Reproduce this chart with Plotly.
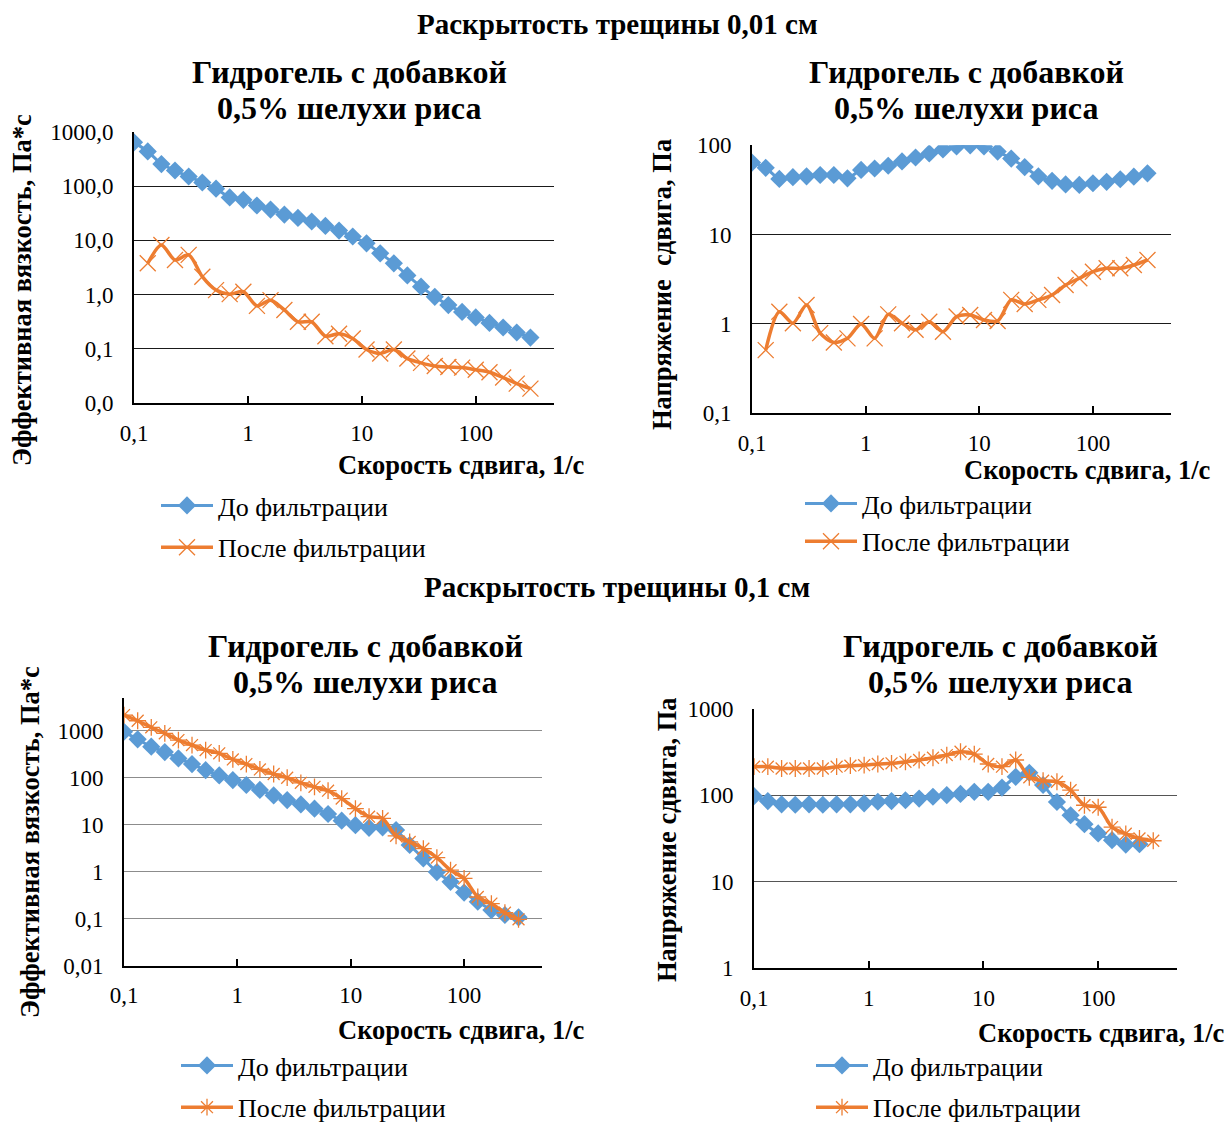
import plotly.graph_objects as go

# Shear rate, 1/s (common grid for all four panels)
shear_rate = [0.1, 0.132, 0.174, 0.229, 0.302, 0.398, 0.525, 0.692, 0.912, 1.2,
              1.58, 2.09, 2.75, 3.63, 4.79, 6.31, 8.32, 11.0, 14.5, 19.1,
              25.1, 33.1, 43.7, 57.5, 75.9, 100, 132, 174, 229, 302]

# Crack opening 0.01 cm: effective viscosity, Pa*s
visc_01_before = [644, 439, 256, 195, 151, 117, 90, 62, 56, 44,
                  37, 30, 26, 22.3, 18.5, 15.2, 11.8, 8.85, 5.78, 3.78,
                  2.26, 1.40, 0.91, 0.64, 0.48, 0.38, 0.30, 0.247, 0.20, 0.161]
visc_01_after = [None, 3.78, 8.2, 4.35, 5.4, 2.14, 1.21, 1.02, 1.13, 0.62,
                 0.79, 0.52, 0.315, 0.315, 0.171, 0.19, 0.155, 0.097, 0.082, 0.097,
                 0.066, 0.055, 0.048, 0.046, 0.045, 0.041, 0.037, 0.0295, 0.0228, 0.0184]

# Crack opening 0.01 cm: shear stress, Pa
stress_01_before = [64, 56, 42, 44, 45, 46.5, 46.5, 42.7, 53, 55,
                    59, 66, 73, 81, 90, 97, 100, 97, 85, 71,
                    57, 45, 40, 36.5, 36, 37.6, 39, 41.7, 44.6, 48.6]
stress_01_after = [None, 0.51, 1.37, 1.02, 1.63, 0.79, 0.62, 0.69, 1.0, 0.69,
                   1.28, 1.02, 0.86, 1.06, 0.82, 1.21, 1.26, 1.11, 1.08, 1.86,
                   1.67, 1.86, 2.11, 2.73, 3.25, 3.85, 4.2, 4.2, 4.57, 5.2]

# Crack opening 0.1 cm: effective viscosity, Pa*s
visc_1_before = [952, 655, 457, 352, 258, 195, 145, 112, 89, 70,
                 55, 42, 33.5, 27, 21.9, 16.9, 12.2, 9.8, 8.6, 8.8,
                 7.7, 3.7, 1.92, 0.98, 0.61, 0.36, 0.23, 0.153, 0.12, 0.107]
visc_1_after = [2150, 1630, 1180, 880, 633, 495, 388, 330, 245, 195,
                150, 120, 100, 78, 64, 53, 36, 22, 14.8, 13.6,
                5.8, 4.3, 3.1, 2.0, 1.08, 0.72, 0.29, 0.21, 0.134, 0.097]

# Crack opening 0.1 cm: shear stress, Pa
stress_1_before = [98, 86, 79, 78, 79, 78, 79, 79, 81, 84.5,
                   86, 88, 92, 96.5, 101, 104, 110, 110, 123, 164,
                   183, 132, 84, 59, 46.5, 36.3, 30.4, 27, 27.3, None]
stress_1_after = [215, 215, 205, 205, 205, 205, 215, 221, 224, 231,
                  235, 245, 257, 273, 293, 320, 301, 231, 215, 257,
                  162, 148, 144, 115, 77, 73, 43, 36, 31.8, 29.9]

x_tickvals = [0.1, 1, 10, 100]
x_ticktext = ["0,1", "1", "10", "100"]

y1_tickvals = [0.01, 0.1, 1, 10, 100, 1000]
y1_ticktext = ["0,0", "0,1", "1,0", "10,0", "100,0", "1000,0"]
y2_tickvals = [0.1, 1, 10, 100]
y2_ticktext = ["0,1", "1", "10", "100"]
y3_tickvals = [0.01, 0.1, 1, 10, 100, 1000]
y3_ticktext = ["0,01", "0,1", "1", "10", "100", "1000"]
y4_tickvals = [1, 10, 100, 1000]
y4_ticktext = ["1", "10", "100", "1000"]

label_before = "До фильтрации"
label_after = "После фильтрации"
title_line1 = "Гидрогель с добавкой"
title_line2 = "0,5% шелухи риса"
x_title = "Скорость сдвига, 1/с"

BLUE = "#5B9BD5"
ORANGE = "#ED7D31"
SERIF = "Liberation Serif"
W, H = 1227, 1124

fig = go.Figure()

panels = [
    # (axis suffix, before, after, marker of the "after" series, size, legend id)
    ("", visc_01_before, visc_01_after, "x-thin-open", 16, "legend"),
    ("2", stress_01_before, stress_01_after, "x-thin-open", 16, "legend2"),
    ("3", visc_1_before, visc_1_after, "asterisk-open", 14, "legend3"),
    ("4", stress_1_before, stress_1_after, "asterisk-open", 14, "legend4"),
]

for suf, before, after, sym, msize, leg in panels:
    fig.add_trace(go.Scatter(
        x=shear_rate, y=before, name=label_before, mode="lines+markers",
        xaxis="x" + suf, yaxis="y" + suf, legend=leg, legendgroup="b" + suf,
        line=dict(color=BLUE, width=3, shape="spline", smoothing=0.6),
        marker=dict(symbol="diamond", size=14, color=BLUE),
    ))
    fig.add_trace(go.Scatter(
        x=shear_rate, y=after, name=label_after, mode="lines+markers",
        xaxis="x" + suf, yaxis="y" + suf, legend=leg, legendgroup="a" + suf,
        line=dict(color=ORANGE, width=3.5, shape="spline", smoothing=0.8),
        marker=dict(symbol=sym, size=msize, color=ORANGE,
                    line=dict(color=ORANGE, width=1.3)),
    ))


def px_x(p):
    return p / W


def px_y(p):
    return 1 - p / H


tick_font = dict(family=SERIF, size=23, color="black")


def xaxis(left, right, anchor):
    return dict(
        type="log", range=[-1, 2.687], domain=[px_x(left), px_x(right)],
        anchor=anchor, tickvals=x_tickvals, ticktext=x_ticktext,
        showgrid=False, showline=True, linecolor="black", linewidth=2,
        ticks="inside", ticklen=7, tickwidth=2, tickcolor="black",
        tickfont=tick_font, ticklabelstandoff=8, zeroline=False,
    )


def yaxis(top, bottom, rng, tv, tt, anchor, grid):
    return dict(
        type="log", range=rng, domain=[px_y(bottom), px_y(top)],
        anchor=anchor, tickvals=tv, ticktext=tt,
        showgrid=True, gridcolor=grid, gridwidth=1,
        showline=True, linecolor="black", linewidth=2,
        ticks="", tickfont=tick_font, ticklabelstandoff=14, zeroline=False,
    )


fig.update_layout(
    width=W, height=H,
    margin=dict(l=0, r=0, t=0, b=0, autoexpand=False),
    paper_bgcolor="white", plot_bgcolor="white",
    font=dict(family=SERIF, color="black"),
    xaxis=xaxis(134, 554, "y"),
    yaxis=yaxis(132, 403, [-2, 3], y1_tickvals, y1_ticktext, "x", "#1a1a1a"),
    xaxis2=xaxis(752, 1171, "y2"),
    yaxis2=yaxis(145.3, 413.3, [-1, 2], y2_tickvals, y2_ticktext, "x2", "#1a1a1a"),
    xaxis3=xaxis(124, 542, "y3"),
    yaxis3=yaxis(698.3, 965.7, [-2, 3.69], y3_tickvals, y3_ticktext, "x3", "#8c8c8c"),
    xaxis4=xaxis(754, 1177, "y4"),
    yaxis4=yaxis(709, 968.3, [0, 3], y4_tickvals, y4_ticktext, "x4", "#555555"),
)


def legend_at(x, y, gap):
    return dict(
        x=px_x(x), y=px_y(y), xanchor="left", yanchor="top", orientation="v",
        font=dict(family=SERIF, size=26, color="black"),
        bgcolor="rgba(0,0,0,0)", borderwidth=0, itemwidth=52,
        traceorder="grouped", tracegroupgap=gap,
    )


fig.update_layout(
    legend=legend_at(156, 482, 5),
    legend2=legend_at(800, 480, 1),
    legend3=legend_at(176, 1042, 5),
    legend4=legend_at(811, 1042, 5),
)

annotations = []


def text(x, y, s, size, bold=False, angle=0):
    annotations.append(dict(
        x=px_x(x), y=px_y(y), xref="paper", yref="paper",
        text=f"<b>{s}</b>" if bold else s, showarrow=False,
        xanchor="center", yanchor="middle", textangle=angle,
        font=dict(family=SERIF, size=size, color="black"),
    ))


# Section headings
text(617, 24, "Раскрытость трещины 0,01 см", 29, bold=True)
text(617, 587, "Раскрытость трещины 0,1 см", 29, bold=True)

# Panel titles (two lines each)
for cx, cy in [(349, 72), (966, 72), (365, 646), (1000, 646)]:
    text(cx, cy, title_line1, 32, bold=True)
    text(cx, cy + 36, title_line2, 32, bold=True)

# Axis titles
text(461, 465, x_title, 26.5, bold=True)
text(1087, 470, x_title, 26.5, bold=True)
text(461, 1030, x_title, 26.5, bold=True)
text(1101, 1033, x_title, 26.5, bold=True)

text(22, 290, "Эффективная вязкость, Па*с", 26.5, bold=True, angle=-90)
text(662, 285, "Напряжение  сдвига, Па", 26.5, bold=True, angle=-90)
text(30, 842, "Эффективная вязкость, Па*с", 26.5, bold=True, angle=-90)
text(667, 840, "Напряжение сдвига, Па", 26.5, bold=True, angle=-90)

fig.update_layout(annotations=annotations)

fig.write_html("out.html")
